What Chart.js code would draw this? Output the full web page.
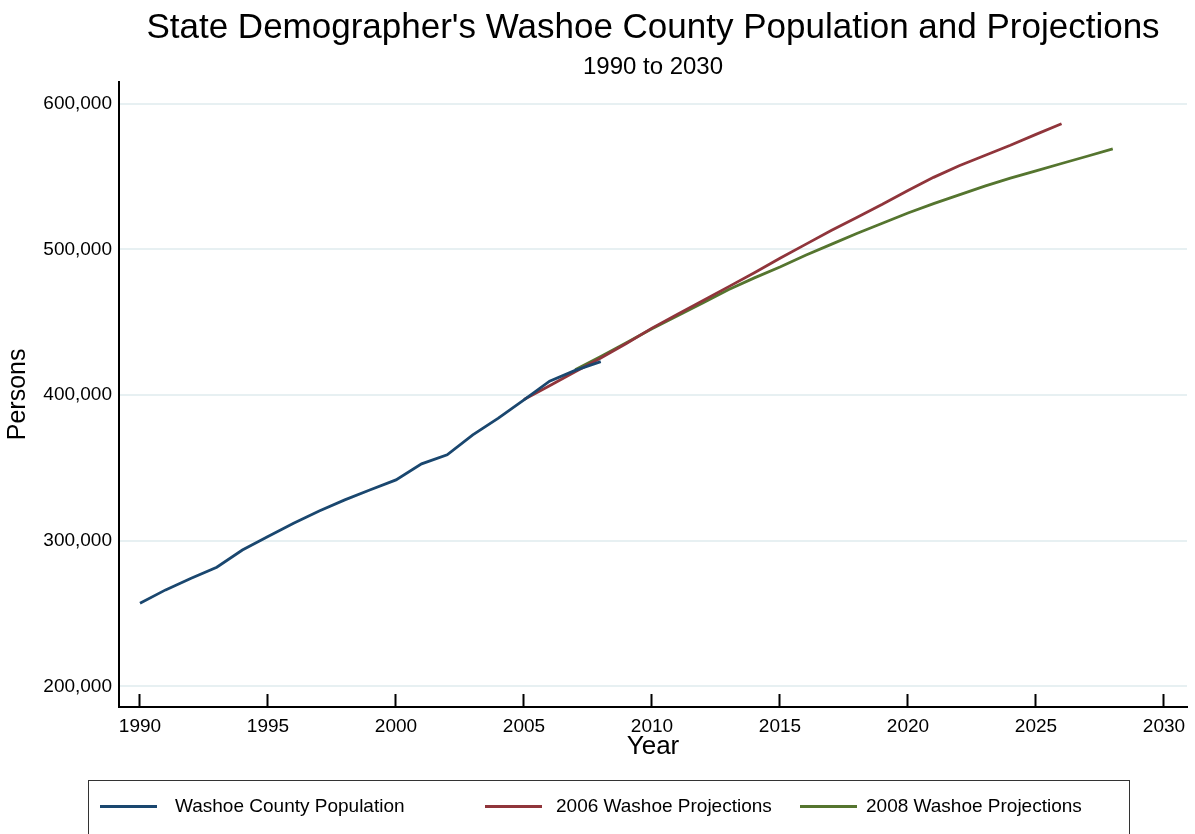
<!DOCTYPE html>
<html>
<head>
<meta charset="utf-8">
<script src="https://cdn.jsdelivr.net/npm/chart.js@4.4.1/dist/chart.umd.min.js"></script>
<style>
  html, body { margin: 0; padding: 0; background: #fff; }
  #wrap { position: relative; width: 1195px; height: 834px; overflow: hidden; }
  #legend {
    position: absolute; left: 88px; top: 780px; width: 1042px; height: 70px;
    border: 1.5px solid #333; box-sizing: border-box;
    font-family: "Liberation Sans", Arial, sans-serif; font-size: 19px; color: #000;
  }
  .swatch { position: absolute; top: 24px; width: 57px; height: 3px; }
  .label { position: absolute; top: 15px; line-height: 20px; white-space: nowrap; }
</style>
</head>
<body>
<div id="wrap">
  <canvas id="popChart" width="1195" height="834"></canvas>
  <div id="legend"></div>
</div>
<script>
// Washoe County population, annual
const popYears = [1990, 1991, 1992, 1993, 1994, 1995, 1996, 1997, 1998, 1999, 2000,
  2001, 2002, 2003, 2004, 2005, 2006, 2007, 2008];
const popValues = [257100, 266300, 274300, 281900, 293700, 302900, 312100, 320500, 328100, 335000, 341800,
  352800, 359000, 372700, 384200, 396800, 409600, 417000, 423000];

// 2006 projections
const proj2006Years = [2005, 2006, 2007, 2008, 2009, 2010, 2011, 2012, 2013, 2014, 2015,
  2016, 2017, 2018, 2019, 2020, 2021, 2022, 2023, 2024, 2025, 2026];
const proj2006Values = [397000, 406500, 416000, 425500, 435500, 446000, 455500, 465000, 474500, 484000, 494000,
  503500, 513000, 522000, 531000, 540500, 549500, 557500, 564500, 571500, 579000, 586300];

// 2008 projections
const proj2008Years = [2007, 2008, 2009, 2010, 2011, 2012, 2013, 2014, 2015, 2016, 2017,
  2018, 2019, 2020, 2021, 2022, 2023, 2024, 2025, 2026, 2027, 2028];
const proj2008Values = [417400, 426500, 436000, 445500, 454500, 463500, 472500, 480500, 488000, 496000, 503500,
  511000, 518000, 525000, 531500, 537500, 543500, 549000, 554000, 559000, 564000, 569000];

const seriesNames = ["Washoe County Population", "2006 Washoe Projections", "2008 Washoe Projections"];
const seriesColors = ["#1a476f", "#90353b", "#55752f"];

const xTicks = [1990, 1995, 2000, 2005, 2010, 2015, 2020, 2025, 2030];
const yTicks = [200000, 300000, 400000, 500000, 600000];

const toPoints = (xs, ys) => xs.map((x, i) => ({ x: x, y: ys[i] }));
const FONT = "'Liberation Sans', Arial, sans-serif";

const ctx = document.getElementById("popChart").getContext("2d");
const chart = new Chart(ctx, {
  type: "line",
  data: {
    datasets: [
      { label: seriesNames[0], data: toPoints(popYears, popValues) },
      { label: seriesNames[1], data: toPoints(proj2006Years, proj2006Values) },
      { label: seriesNames[2], data: toPoints(proj2008Years, proj2008Values) },
    ].map((d, i) => ({
      ...d,
      borderColor: seriesColors[i],
      backgroundColor: seriesColors[i],
      borderWidth: 2.8,
      pointRadius: 0,
      tension: 0,
      fill: false,
    })),
  },
  options: {
    responsive: false,
    animation: false,
    layout: { padding: { left: 0, right: 8, top: 0, bottom: 70 } },
    plugins: {
      legend: { display: false },
      tooltip: { enabled: false },
      title: {
        display: true,
        fullSize: false,
        text: "State Demographer's Washoe County Population and Projections",
        color: "#000",
        font: { family: FONT, size: 35, weight: "normal" },
        padding: { top: 7, bottom: 2 },
      },
      subtitle: {
        display: true,
        fullSize: false,
        text: "1990 to 2030",
        color: "#000",
        font: { family: FONT, size: 24, weight: "normal" },
        padding: { top: 2, bottom: 0 },
      },
    },
    scales: {
      x: {
        type: "linear",
        min: 1989.18,
        max: 2030.9,
        afterBuildTicks: (s) => { s.ticks = xTicks.map((v) => ({ value: v })); },
        afterFit: (s) => { s.height = 57; s.paddingLeft = 0; s.paddingRight = 0; },
        border: { display: true, color: "#000", width: 2 },
        grid: { drawOnChartArea: false, drawTicks: true, tickLength: -13, tickColor: "#000", tickWidth: 2 },
        ticks: {
          color: "#000",
          padding: 21,
          maxRotation: 0,
          font: { family: FONT, size: 19 },
          callback: (v) => String(v),
        },
        title: {
          display: true,
          text: "Year",
          color: "#000",
          font: { family: FONT, size: 26 },
          padding: { top: 0, bottom: 2 },
        },
      },
      y: {
        min: 185900,
        max: 615100,
        afterBuildTicks: (s) => { s.ticks = yTicks.map((v) => ({ value: v })); },
        afterFit: (s) => { s.width = 119; },
        border: { display: true, color: "#000", width: 2 },
        grid: { color: "#e7f0f2", lineWidth: 2, drawTicks: false },
        ticks: {
          color: "#000",
          padding: 7,
          font: { family: FONT, size: 19 },
          callback: (v) => v.toLocaleString("en-US"),
        },
        title: {
          display: true,
          text: "Persons",
          color: "#000",
          font: { family: FONT, size: 25 },
          padding: { top: 3, bottom: 4 },
        },
      },
    },
  },
});

// legend in a box under the chart, built from the chart's datasets
const legendEl = document.getElementById("legend");
const swatchLeft = [100, 485, 800];
const labelLeft = [175, 556, 866];
chart.data.datasets.forEach((d, i) => {
  const sw = document.createElement("div");
  sw.className = "swatch";
  sw.style.left = (swatchLeft[i] - 89) + "px";
  sw.style.background = d.borderColor;
  legendEl.appendChild(sw);
  const lb = document.createElement("div");
  lb.className = "label";
  lb.style.left = (labelLeft[i] - 89) + "px";
  lb.textContent = d.label;
  legendEl.appendChild(lb);
});
</script>
</body>
</html>
